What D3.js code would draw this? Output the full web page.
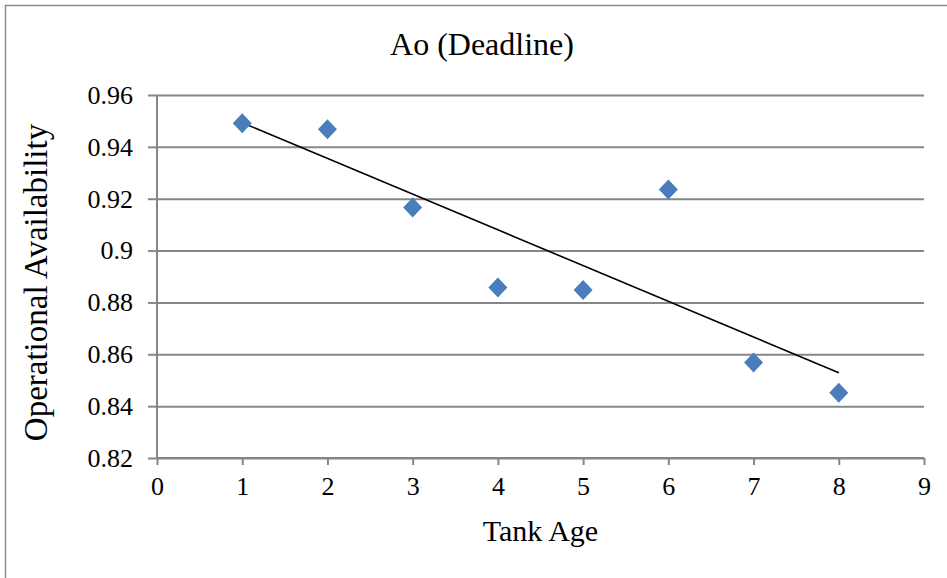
<!DOCTYPE html>
<html>
<head>
<meta charset="utf-8">
<script src="https://cdn.jsdelivr.net/npm/d3@7"></script>
<style>
  html, body { margin: 0; padding: 0; background: #ffffff; }
  svg { display: block; }
  svg text { font-family: "Liberation Serif", "Times New Roman", serif; fill: #000; }
</style>
</head>
<body>
<svg id="chart" width="947" height="578"></svg>
<script>
const tankAge = [1, 2, 3, 4, 5, 6, 7, 8];
const availability = [0.9491, 0.9468, 0.9166, 0.8858, 0.8848, 0.9236, 0.8568, 0.8452];
const xTicks = [0, 1, 2, 3, 4, 5, 6, 7, 8, 9];
const yTicks = [0.82, 0.84, 0.86, 0.88, 0.9, 0.92, 0.94, 0.96];

const svg = d3.select("#chart");
const margens = { left: 157, right: 23, top: 95, bottom: 120 };
const width = 947, height = 578;
const innerWidth = width - margens.left - margens.right;
const innerHeight = height - margens.top - margens.bottom;
const gridColor = "#868686";

// outer frame (only left and top edges are visible in the picture)
svg.append("path")
    .attr("d", `M5.5,${height}V5.5H${width}`)
    .attr("fill", "none")
    .attr("stroke", "#8c8c8c")
    .attr("stroke-width", 1.5);

const x = d3.scaleLinear().domain([0, 9]).range([0, innerWidth]);
const y = d3.scaleLinear().domain([0.82, 0.96]).range([innerHeight, 0]);

const mainGroup = svg.append("g")
    .attr("transform", `translate(${margens.left}, ${margens.top})`);

// horizontal gridlines
mainGroup.append("g")
    .call(d3.axisLeft(y).tickValues(yTicks).tickSize(-innerWidth).tickFormat(""))
    .call(g => g.select(".domain").remove())
    .call(g => g.selectAll("line").attr("stroke", gridColor).attr("stroke-width", 2));

// y axis
mainGroup.append("g")
    .call(d3.axisLeft(y).tickValues(yTicks).tickSize(9).tickPadding(15)
        .tickFormat(v => String(+v.toFixed(2))))
    .call(g => g.select(".domain").attr("stroke", gridColor).attr("stroke-width", 2)
        .attr("d", `M0,${innerHeight}V0`))
    .call(g => g.selectAll("line").attr("stroke", gridColor).attr("stroke-width", 2))
    .call(g => g.selectAll("text").style("font-size", "26px"));

// x axis
mainGroup.append("g")
    .attr("transform", `translate(0, ${innerHeight})`)
    .call(d3.axisBottom(x).tickValues(xTicks).tickSize(7).tickPadding(12))
    .call(g => g.select(".domain").attr("stroke", gridColor).attr("stroke-width", 2)
        .attr("d", `M0,0H${innerWidth}`))
    .call(g => g.selectAll("line").attr("stroke", gridColor).attr("stroke-width", 2))
    .call(g => g.selectAll("text").style("font-size", "26px"));

// linear trendline (least squares)
const meanX = d3.mean(tankAge);
const meanY = d3.mean(availability);
const slope = d3.sum(tankAge, (t, i) => (t - meanX) * (availability[i] - meanY)) /
    d3.sum(tankAge, t => (t - meanX) * (t - meanX));
const intercept = meanY - slope * meanX;
const trend = d3.extent(tankAge).map(t => [t, intercept + slope * t]);

mainGroup.append("path")
    .datum(trend)
    .attr("fill", "none")
    .attr("stroke", "#000")
    .attr("stroke-width", 1.6)
    .attr("d", d3.line().x(d => x(d[0])).y(d => y(d[1])));

// diamond markers
const points = tankAge.map((t, i) => ({ age: t, ao: availability[i] }));
mainGroup.selectAll(".pt")
    .data(points)
    .join("path")
    .attr("class", "pt")
    .attr("transform", d => `translate(${x(d.age)}, ${y(d.ao)})`)
    .attr("d", "M0,-10L9.5,0L0,10L-9.5,0Z")
    .attr("fill", "#4a7ebb");

// titles
svg.append("text")
    .attr("x", 482)
    .attr("y", 55)
    .attr("text-anchor", "middle")
    .style("font-size", "32px")
    .text("Ao (Deadline)");

svg.append("text")
    .attr("x", margens.left + innerWidth / 2)
    .attr("y", 541)
    .attr("text-anchor", "middle")
    .style("font-size", "30px")
    .text("Tank Age");

svg.append("text")
    .attr("transform", `translate(47, ${margens.top + innerHeight / 2 + 6}) rotate(-90)`)
    .attr("text-anchor", "middle")
    .style("font-size", "33px")
    .text("Operational Availability");
</script>
</body>
</html>
